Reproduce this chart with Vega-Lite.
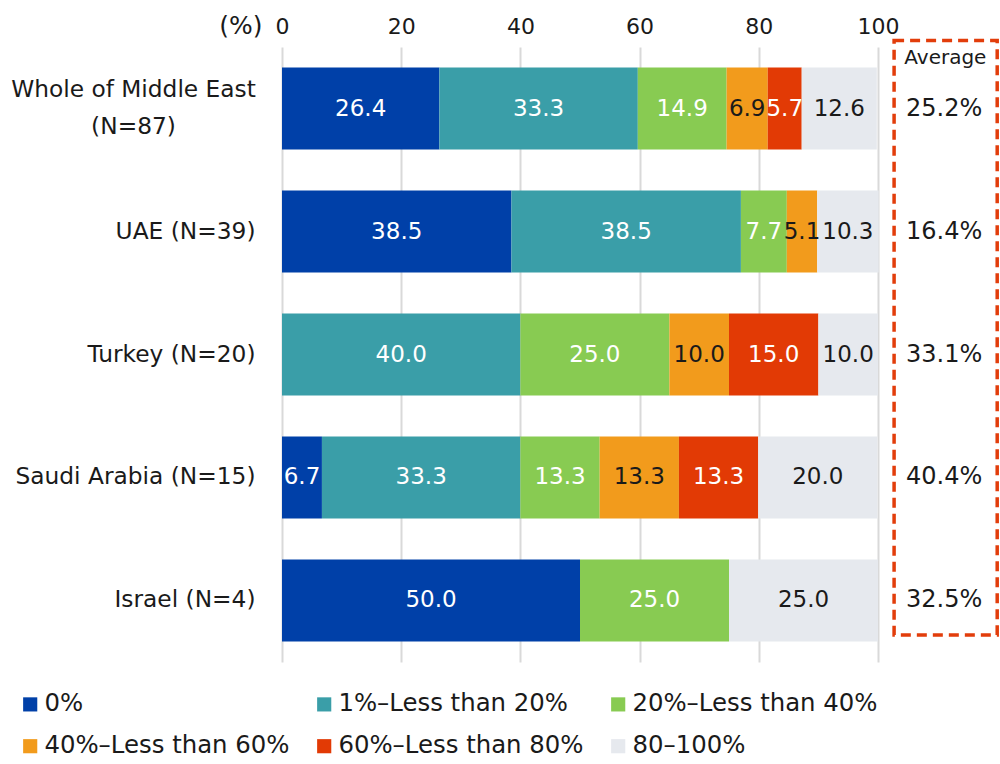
{
  "$schema": "https://vega.github.io/schema/vega-lite/v6.json",
  "width": 596,
  "height": 615,
  "autosize": "none",
  "padding": {"left": 282, "top": 47, "right": 122, "bottom": 102},
  "background": "white",
  "config": {
    "font": "DejaVu Sans",
    "view": {"stroke": null},
    "axisX": {
      "labelFontSize": 22,
      "labelColor": "#1a1a1a",
      "labelBaseline": "alphabetic",
      "labelPadding": 14,
      "labelFlush": false,
      "ticks": false,
      "domain": false,
      "grid": true,
      "gridColor": "#d9d9d9",
      "gridWidth": 2,
      "titleFontSize": 25,
      "titleFontWeight": "normal",
      "titleColor": "#1a1a1a",
      "titleX": -20,
      "titleY": -14,
      "titleAlign": "right",
      "titleBaseline": "alphabetic"
    },
    "axisY": {
      "labelFontSize": 23.3,
      "labelColor": "#1a1a1a",
      "ticks": false,
      "domain": false,
      "grid": false,
      "labelLineHeight": 37,
      "labelLimit": 400
    }
  },
  "datasets": {
    "shares": [
      {"country": "Whole of Middle East (N=87)", "cat": "0%", "order": 1, "value": 26.4},
      {"country": "Whole of Middle East (N=87)", "cat": "1%–Less than 20%", "order": 2, "value": 33.3},
      {"country": "Whole of Middle East (N=87)", "cat": "20%–Less than 40%", "order": 3, "value": 14.9},
      {"country": "Whole of Middle East (N=87)", "cat": "40%–Less than 60%", "order": 4, "value": 6.9},
      {"country": "Whole of Middle East (N=87)", "cat": "60%–Less than 80%", "order": 5, "value": 5.7},
      {"country": "Whole of Middle East (N=87)", "cat": "80–100%", "order": 6, "value": 12.6},
      {"country": "UAE (N=39)", "cat": "0%", "order": 1, "value": 38.5},
      {"country": "UAE (N=39)", "cat": "1%–Less than 20%", "order": 2, "value": 38.5},
      {"country": "UAE (N=39)", "cat": "20%–Less than 40%", "order": 3, "value": 7.7},
      {"country": "UAE (N=39)", "cat": "40%–Less than 60%", "order": 4, "value": 5.1},
      {"country": "UAE (N=39)", "cat": "80–100%", "order": 6, "value": 10.3},
      {"country": "Turkey (N=20)", "cat": "1%–Less than 20%", "order": 2, "value": 40.0},
      {"country": "Turkey (N=20)", "cat": "20%–Less than 40%", "order": 3, "value": 25.0},
      {"country": "Turkey (N=20)", "cat": "40%–Less than 60%", "order": 4, "value": 10.0},
      {"country": "Turkey (N=20)", "cat": "60%–Less than 80%", "order": 5, "value": 15.0},
      {"country": "Turkey (N=20)", "cat": "80–100%", "order": 6, "value": 10.0},
      {"country": "Saudi Arabia (N=15)", "cat": "0%", "order": 1, "value": 6.7},
      {"country": "Saudi Arabia (N=15)", "cat": "1%–Less than 20%", "order": 2, "value": 33.3},
      {"country": "Saudi Arabia (N=15)", "cat": "20%–Less than 40%", "order": 3, "value": 13.3},
      {"country": "Saudi Arabia (N=15)", "cat": "40%–Less than 60%", "order": 4, "value": 13.3},
      {"country": "Saudi Arabia (N=15)", "cat": "60%–Less than 80%", "order": 5, "value": 13.3},
      {"country": "Saudi Arabia (N=15)", "cat": "80–100%", "order": 6, "value": 20.0},
      {"country": "Israel (N=4)", "cat": "0%", "order": 1, "value": 50.0},
      {"country": "Israel (N=4)", "cat": "20%–Less than 40%", "order": 3, "value": 25.0},
      {"country": "Israel (N=4)", "cat": "80–100%", "order": 6, "value": 25.0}
    ],
    "averages": [
      {"country": "Whole of Middle East (N=87)", "avg": 0.252},
      {"country": "UAE (N=39)", "avg": 0.164},
      {"country": "Turkey (N=20)", "avg": 0.331},
      {"country": "Saudi Arabia (N=15)", "avg": 0.404},
      {"country": "Israel (N=4)", "avg": 0.325}
    ]
  },
  "layer": [
    {
      "layer": [
        {
          "data": {"name": "shares"},
          "transform": [
            {"stack": "value", "groupby": ["country"], "sort": [{"field": "order", "order": "ascending"}], "as": ["x0", "x1"]}
          ],
          "mark": {"type": "bar"},
          "encoding": {
            "y": {
              "field": "country", "type": "nominal", "title": null,
              "sort": ["Whole of Middle East (N=87)", "UAE (N=39)", "Turkey (N=20)", "Saudi Arabia (N=15)", "Israel (N=4)"],
              "scale": {"paddingInner": 0.333, "paddingOuter": 0.167},
              "axis": {
                "labelExpr": "datum.value === 'Whole of Middle East (N=87)' ? ['Whole of Middle East', '(N=87)'] : datum.value",
                "labelAlign": {"condition": {"test": "datum.value === 'Whole of Middle East (N=87)'", "value": "center"}, "value": "right"},
                "labelPadding": {"condition": {"test": "datum.value === 'Whole of Middle East (N=87)'", "value": 149}, "value": 27},
                "labelOffset": {"condition": {"test": "datum.value === 'Whole of Middle East (N=87)'", "value": -19}, "value": 0}
              }
            },
            "x": {"field": "x0", "type": "quantitative", "title": "(%)", "scale": {"domain": [0, 100], "nice": false}, "axis": {"orient": "top", "values": [0, 20, 40, 60, 80, 100]}},
            "x2": {"field": "x1"},
            "color": {
              "field": "cat", "type": "nominal",
              "scale": {
                "domain": ["0%", "1%–Less than 20%", "20%–Less than 40%", "40%–Less than 60%", "60%–Less than 80%", "80–100%"],
                "range": ["#0040a8", "#3a9ea8", "#88cb52", "#f29b1c", "#e23a05", "#e6e9ee"]
              },
              "legend": {
                "orient": "none", "legendX": -264, "legendY": 645, "direction": "horizontal", "columns": 3,
                "title": null, "padding": 0, "labelFontSize": 24.4, "labelColor": "#1a1a1a",
                "symbolType": "square", "symbolSize": 200, "symbolStrokeWidth": 0, "labelOffset": 2,
                "columnPadding": 22, "rowPadding": 17, "labelLimit": 400
              }
            }
          }
        },
        {
          "data": {"name": "shares"},
          "transform": [
            {"stack": "value", "groupby": ["country"], "sort": [{"field": "order", "order": "ascending"}], "as": ["x0", "x1"]},
            {"calculate": "(datum.x0 + datum.x1) / 2", "as": "mid"}
          ],
          "mark": {"type": "text", "fontSize": 23, "align": "center", "baseline": "middle"},
          "encoding": {
            "y": {
              "field": "country", "type": "nominal", "title": null,
              "sort": ["Whole of Middle East (N=87)", "UAE (N=39)", "Turkey (N=20)", "Saudi Arabia (N=15)", "Israel (N=4)"],
              "scale": {"paddingInner": 0.333, "paddingOuter": 0.167}
            },
            "x": {"field": "mid", "type": "quantitative", "title": "(%)", "scale": {"domain": [0, 100], "nice": false}, "axis": {"orient": "top", "values": [0, 20, 40, 60, 80, 100]}},
            "text": {"field": "value", "type": "quantitative", "format": ".1f"},
            "color": {
              "condition": {"test": "datum.cat === '40%–Less than 60%' || datum.cat === '80–100%'", "value": "#1a1a1a"},
              "value": "#ffffff"
            }
          }
        },
        {
          "data": {"name": "averages"},
          "mark": {"type": "text", "fontSize": 24, "align": "center", "baseline": "middle", "color": "#1a1a1a"},
          "encoding": {
            "y": {
              "field": "country", "type": "nominal", "title": null,
              "sort": ["Whole of Middle East (N=87)", "UAE (N=39)", "Turkey (N=20)", "Saudi Arabia (N=15)", "Israel (N=4)"],
              "scale": {"paddingInner": 0.333, "paddingOuter": 0.167}
            },
            "x": {"datum": 111.1, "type": "quantitative", "title": "(%)", "scale": {"domain": [0, 100], "nice": false}, "axis": {"orient": "top", "values": [0, 20, 40, 60, 80, 100]}},
            "text": {"field": "avg", "type": "quantitative", "format": ".1%"}
          }
        }
      ]
    },
    {
      "data": {"values": [{}]},
      "layer": [
        {
          "mark": {"type": "rect", "fillOpacity": 0, "stroke": "#e23d0b", "strokeWidth": 3.5, "strokeDash": [10, 6]},
          "encoding": {
            "x": {"datum": 102.7, "type": "quantitative", "title": "(%)", "scale": {"domain": [0, 100], "nice": false}, "axis": {"orient": "top", "values": [0, 20, 40, 60, 80, 100]}},
            "x2": {"datum": 120.0},
            "y": {"datum": 101.06, "type": "quantitative", "scale": {"domain": [0, 100], "nice": false}, "axis": null},
            "y2": {"datum": 4.39}
          }
        },
        {
          "mark": {"type": "text", "fontSize": 20, "align": "center", "baseline": "middle", "color": "#1a1a1a", "text": "Average"},
          "encoding": {
            "x": {"datum": 111.3, "type": "quantitative", "title": "(%)", "scale": {"domain": [0, 100], "nice": false}, "axis": {"orient": "top", "values": [0, 20, 40, 60, 80, 100]}},
            "y": {"datum": 98.2, "type": "quantitative", "scale": {"domain": [0, 100], "nice": false}, "axis": null}
          }
        }
      ]
    }
  ],
  "resolve": {"scale": {"y": "independent"}}
}
